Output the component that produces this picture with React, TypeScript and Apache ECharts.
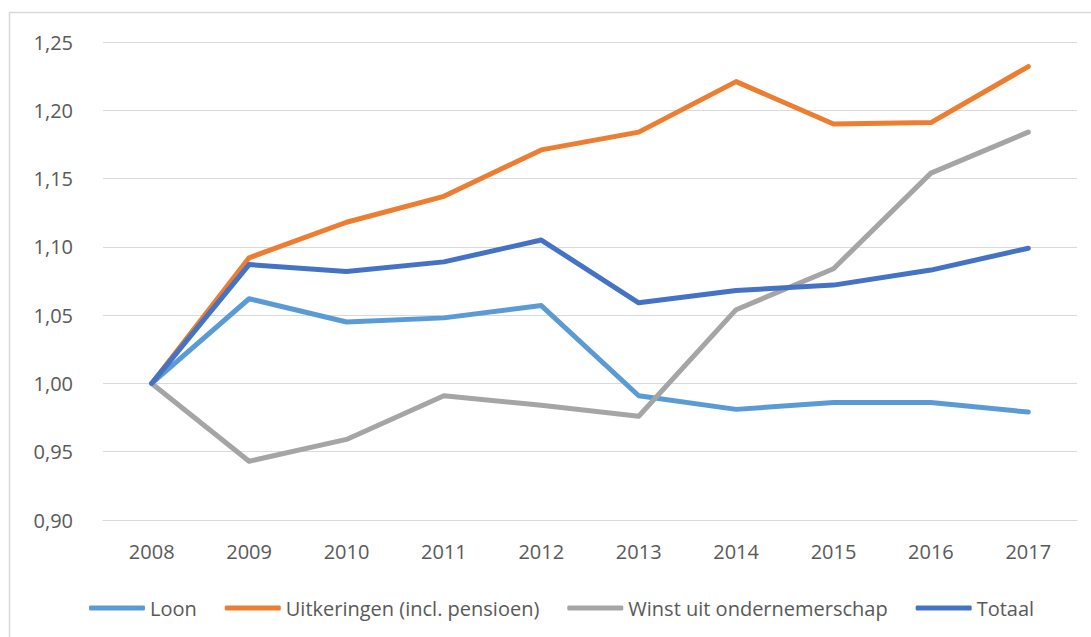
import React, { useEffect, useRef } from "react";
import * as echarts from "echarts";

const years = ["2008", "2009", "2010", "2011", "2012", "2013", "2014", "2015", "2016", "2017"];
const loon = [1.0, 1.062, 1.045, 1.048, 1.057, 0.991, 0.981, 0.986, 0.986, 0.979];
const uitkeringen = [1.0, 1.092, 1.118, 1.137, 1.171, 1.184, 1.221, 1.19, 1.191, 1.232];
const winst = [1.0, 0.943, 0.959, 0.991, 0.984, 0.976, 1.054, 1.084, 1.154, 1.184];
const totaal = [1.0, 1.087, 1.082, 1.089, 1.105, 1.059, 1.068, 1.072, 1.083, 1.099];

const seriesNames = ["Loon", "Uitkeringen (incl. pensioen)", "Winst uit ondernemerschap", "Totaal"];
const seriesColors = ["#5B9BD5", "#ED7D31", "#A5A5A5", "#4472C4"];
const seriesData = [loon, uitkeringen, winst, totaal];

const FONT = "'Open Sans', 'Noto Sans', sans-serif";

export default function App() {
  const ref = useRef<HTMLDivElement>(null);
  useEffect(() => {
    if (!ref.current) return;
    const chart = echarts.init(ref.current, null, { renderer: "svg" });
    chart.setOption({
      animation: false,
      backgroundColor: "#ffffff",
      textStyle: { fontFamily: FONT },
      graphic: [
        {
          type: "rect",
          shape: { x: 9.5, y: 12.5, width: 1200, height: 800 },
          style: { fill: "none", stroke: "#D9D9D9", lineWidth: 1.5 },
          silent: true,
        },
      ],
      grid: { left: 103, right: 14, top: 42, bottom: 117 },
      legend: {
        left: 84,
        top: 593,
        icon: "roundRect",
        itemWidth: 56,
        itemHeight: 5,
        itemGap: 28,
        textStyle: { fontFamily: FONT, fontSize: 20, color: "#595959" },
        data: seriesNames,
      },
      xAxis: {
        type: "category",
        data: years,
        boundaryGap: true,
        axisLine: { show: true, lineStyle: { color: "#D9D9D9", width: 1 } },
        axisTick: { show: false },
        axisLabel: { fontFamily: FONT, fontSize: 20, color: "#595959", margin: 21 },
      },
      yAxis: {
        type: "value",
        min: 0.9,
        max: 1.25,
        interval: 0.05,
        axisLine: { show: false },
        axisTick: { show: false },
        splitLine: { lineStyle: { color: "#D9D9D9", width: 1 } },
        axisLabel: {
          fontFamily: FONT,
          fontSize: 20,
          color: "#595959",
          margin: 30,
          formatter: (v: number) => v.toFixed(2).replace(".", ","),
        },
      },
      series: seriesData.map((d, i) => ({
        name: seriesNames[i],
        type: "line",
        data: d,
        showSymbol: false,
        symbol: "none",
        color: seriesColors[i],
        lineStyle: { width: 5, color: seriesColors[i], cap: "round", join: "round" },
      })),
    });
    return () => chart.dispose();
  }, []);
  return (
    <div
      ref={ref}
      style={{ position: "fixed", left: 0, top: 0, width: 1091, height: 637 }}
    />
  );
}
